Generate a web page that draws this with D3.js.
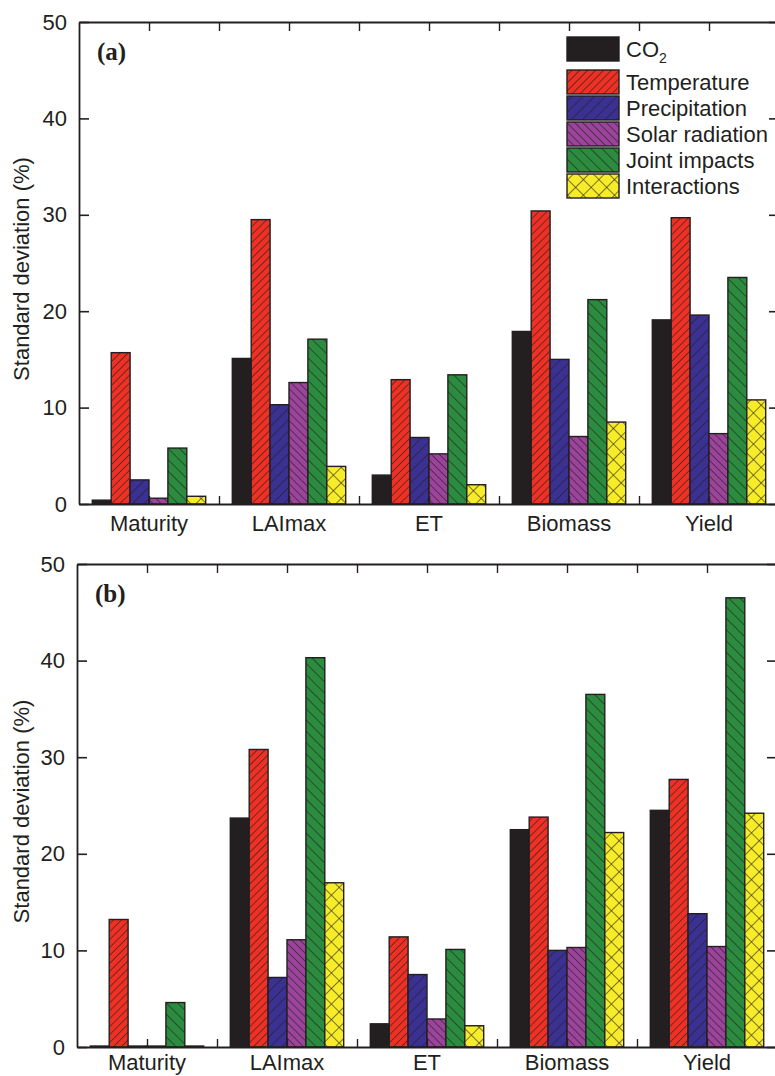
<!DOCTYPE html>
<html><head><meta charset="utf-8">
<script src="https://cdn.jsdelivr.net/npm/d3@7"></script>
<style>
html,body{margin:0;padding:0;background:#fff;}
svg{display:block;}
text{font-family:"Liberation Sans",Arial,Helvetica,sans-serif;fill:#231f20;}
</style></head>
<body>
<svg id="chart" width="775" height="1076"></svg>
<script>
// ---- data ----
const categories = ["Maturity", "LAImax", "ET", "Biomass", "Yield"];
const seriesNames = ["CO2", "Temperature", "Precipitation", "Solar radiation", "Joint impacts", "Interactions"];
const yTicks = [0, 10, 20, 30, 40, 50];

// panel (a)
const aCO2 = [0.4, 15.1, 3.0, 17.9, 19.1];
const aTemperature = [15.7, 29.5, 12.9, 30.4, 29.7];
const aPrecipitation = [2.5, 10.3, 6.9, 15.0, 19.6];
const aSolar = [0.6, 12.6, 5.2, 7.0, 7.3];
const aJoint = [5.8, 17.1, 13.4, 21.2, 23.5];
const aInteractions = [0.8, 3.9, 2.0, 8.5, 10.8];

// panel (b)
const bCO2 = [0.1, 23.7, 2.4, 22.5, 24.5];
const bTemperature = [13.2, 30.8, 11.4, 23.8, 27.7];
const bPrecipitation = [0.1, 7.2, 7.5, 10.0, 13.8];
const bSolar = [0.1, 11.1, 2.9, 10.3, 10.4];
const bJoint = [4.6, 40.3, 10.1, 36.5, 46.5];
const bInteractions = [0.1, 17.0, 2.2, 22.2, 24.2];

// ---- styles ----
const dark = "#231f20";
const fills = {
  "CO2": dark,
  "Temperature": "url(#pTemp)",
  "Precipitation": "url(#pPrec)",
  "Solar radiation": "url(#pSolar)",
  "Joint impacts": "url(#pJoint)",
  "Interactions": "url(#pInter)"
};

const svg = d3.select("#chart");
const defs = svg.append("defs");

function hatch(id, bg, spacing, angle) {
  const p = defs.append("pattern").attr("id", id)
    .attr("patternUnits", "userSpaceOnUse")
    .attr("width", spacing).attr("height", spacing)
    .attr("patternTransform", `rotate(${angle})`);
  p.append("rect").attr("width", spacing).attr("height", spacing).attr("fill", bg);
  p.append("line").attr("x1", 0).attr("y1", 0).attr("x2", 0).attr("y2", spacing)
    .attr("stroke", dark).attr("stroke-width", 1.2);
}
hatch("pTemp", "#ee3124", 5.6, 45);
hatch("pPrec", "#3b3192", 8, 45);
hatch("pSolar", "#9c449c", 5.6, -45);
hatch("pJoint", "#2b8c3f", 8, -45);
(function () {
  const s = 11;
  const p = defs.append("pattern").attr("id", "pInter")
    .attr("patternUnits", "userSpaceOnUse")
    .attr("width", s).attr("height", s)
    .attr("patternTransform", "rotate(45)");
  p.append("rect").attr("width", s).attr("height", s).attr("fill", "#f7ec2a");
  p.append("line").attr("x1", 0).attr("y1", 0).attr("x2", 0).attr("y2", s).attr("stroke", dark).attr("stroke-width", 1.2);
  p.append("line").attr("x1", 0).attr("y1", 0).attr("x2", s).attr("y2", 0).attr("stroke", dark).attr("stroke-width", 1.2);
})();

function drawPanel(cfg) {
  const { left, right, top, bottom, label, series, catOffset } = cfg;
  const g = svg.append("g");
  const x0 = d3.scaleBand().domain(categories).range([left, right]).paddingInner(0.19).paddingOuter(0.095);
  const x1 = d3.scaleBand().domain(seriesNames).range([0, x0.bandwidth()]);
  const y = d3.scaleLinear().domain([0, 50]).range([bottom, top]);

  // bars
  const rows = categories.map((c, i) => ({ cat: c, vals: seriesNames.map((s, j) => ({ s, v: series[j][i] })) }));
  const grp = g.selectAll("g.grp").data(rows).join("g").attr("class", "grp")
    .attr("transform", d => `translate(${x0(d.cat)},0)`);
  grp.selectAll("rect").data(d => d.vals).join("rect")
    .attr("x", d => x1(d.s))
    .attr("y", d => y(d.v))
    .attr("width", x1.bandwidth())
    .attr("height", d => bottom - y(d.v))
    .attr("fill", d => fills[d.s])
    .attr("stroke", dark).attr("stroke-width", 1.4);

  // minor x ticks at centres and boundaries
  const step = x0.step();
  const tickX = d3.range(1, categories.length * 2).map(k => left + k * step / 2);

  // left axis
  const yAxis = d3.axisLeft(y).tickValues(yTicks).tickSizeInner(-10).tickSizeOuter(0).tickPadding(12);
  const ga = g.append("g").attr("transform", `translate(${left},0)`).call(yAxis);
  ga.select(".domain").attr("stroke", dark).attr("stroke-width", 1.8);
  ga.selectAll(".tick line").attr("stroke", dark).attr("stroke-width", 1.6);
  ga.selectAll(".tick text").attr("font-size", 22).attr("fill", dark)
    .style("font-family", '"Liberation Sans",Arial,sans-serif');

  // right axis
  const yAxisR = d3.axisRight(y).tickValues(yTicks).tickSizeInner(-10).tickSizeOuter(0).tickFormat("");
  const gr = g.append("g").attr("transform", `translate(${right},0)`).call(yAxisR);
  gr.select(".domain").attr("stroke", dark).attr("stroke-width", 1.8);
  gr.selectAll(".tick line").attr("stroke", dark).attr("stroke-width", 1.6);

  // top & bottom frames with inward ticks
  const xl = d3.scaleLinear().domain([left, right]).range([left, right]);
  const gb = g.append("g").attr("transform", `translate(0,${bottom})`)
    .call(d3.axisBottom(xl).tickValues(tickX).tickSizeInner(-8).tickSizeOuter(0).tickFormat(""));
  gb.select(".domain").attr("stroke", dark).attr("stroke-width", 2);
  gb.selectAll(".tick line").attr("stroke", dark).attr("stroke-width", 1.4);
  const gt = g.append("g").attr("transform", `translate(0,${top})`)
    .call(d3.axisTop(xl).tickValues(tickX).tickSizeInner(-9).tickSizeOuter(0).tickFormat(""));
  gt.select(".domain").attr("stroke", dark).attr("stroke-width", 1.8);
  gt.selectAll(".tick line").attr("stroke", dark).attr("stroke-width", 1.4);

  // category labels
  g.selectAll("text.cat").data(categories).join("text").attr("class", "cat")
    .attr("x", d => x0(d) + x0.bandwidth() / 2)
    .attr("y", bottom + catOffset)
    .attr("text-anchor", "middle").attr("font-size", 22)
    .text(d => d);

  // y title
  g.append("text")
    .attr("transform", `translate(29,${(top + bottom) / 2 + 6}) rotate(-90)`)
    .attr("text-anchor", "middle").attr("font-size", 22)
    .text("Standard deviation (%)");

  // panel label
  g.append("text").attr("x", left + 18).attr("y", top + 38)
    .style("font-family", '"Liberation Serif","Times New Roman",serif')
    .attr("font-weight", "bold").attr("font-size", 25)
    .text(label);
}

drawPanel({ left: 79, right: 779, top: 22, bottom: 504, label: "(a)", catOffset: 27,
  series: [aCO2, aTemperature, aPrecipitation, aSolar, aJoint, aInteractions] });
drawPanel({ left: 77, right: 777, top: 564, bottom: 1047, label: "(b)", catOffset: 23,
  series: [bCO2, bTemperature, bPrecipitation, bSolar, bJoint, bInteractions] });

// legend
const legendTops = [37, 70, 96, 122, 148, 174];
const lg = svg.append("g");
seriesNames.forEach((s, i) => {
  const yy = legendTops[i];
  lg.append("rect").attr("x", 567).attr("y", yy).attr("width", 52).attr("height", 24)
    .attr("fill", fills[s]).attr("stroke", dark).attr("stroke-width", 1.4);
  const t = lg.append("text").attr("x", 626).attr("y", yy + 20).attr("font-size", 22);
  if (s === "CO2") {
    t.append("tspan").text("CO");
    t.append("tspan").attr("font-size", 14).attr("dy", 6).text("2");
  } else {
    t.text(s);
  }
});
</script>
</body></html>
